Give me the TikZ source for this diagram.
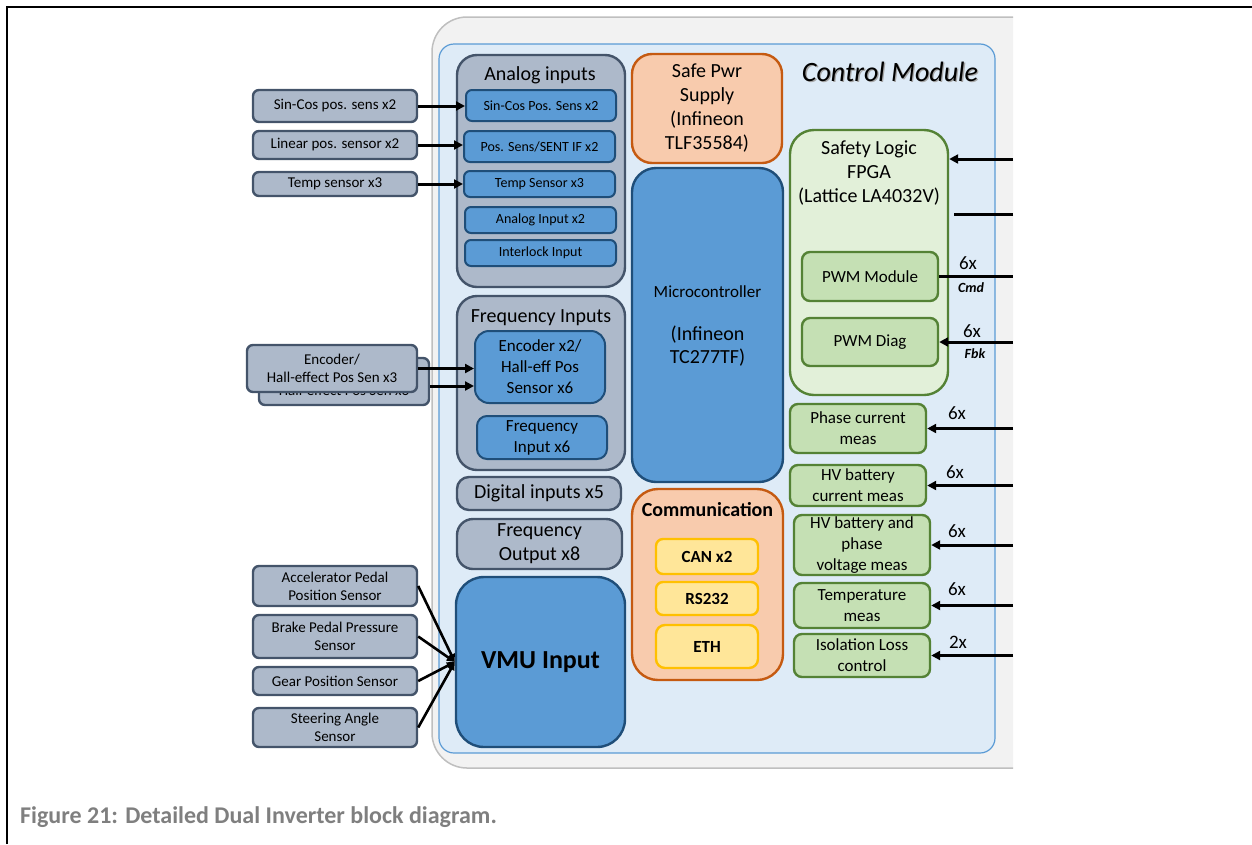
\documentclass[tikz,border=0pt]{standalone}
\usepackage{fontspec}
\setmainfont{Carlito}
\usetikzlibrary{arrows.meta}
\newcommand\fsz[2]{\fontsize{#1}{#2}\selectfont}
\definecolor{grayF}{HTML}{ADB9CA}
\definecolor{grayD}{HTML}{44546A}
\definecolor{blueF}{HTML}{5B9BD5}
\definecolor{blueD}{HTML}{1F4E79}
\definecolor{orF}{HTML}{F8CBAD}
\definecolor{orD}{HTML}{C55A11}
\definecolor{yeF}{HTML}{FFE699}
\definecolor{yeD}{HTML}{FFC000}
\definecolor{grL}{HTML}{E2F0D9}
\definecolor{grF}{HTML}{C5E0B4}
\definecolor{grD}{HTML}{548235}
\definecolor{panel}{HTML}{DEEBF7}
\definecolor{panelD}{HTML}{5B9BD5}
\definecolor{modF}{HTML}{F2F2F2}
\definecolor{modD}{HTML}{BFBFBF}
\definecolor{capG}{HTML}{7F7F7F}
\tikzset{
  base/.style={draw, line width=2.4pt, align=center, inner sep=0pt},
  lbox/.style={base, fill=grayF, draw=grayD, rounded corners=6pt, font=\fsz{15}{18}},
  grp/.style={base, fill=grayF, draw=grayD, rounded corners=20pt, font=\fsz{20}{24}},
  sub/.style={base, fill=blueF, draw=blueD, line width=2pt, rounded corners=6pt, font=\fsz{14}{17}},
  bigblue/.style={base, fill=blueF, draw=blueD, rounded corners=24pt},
  orbox/.style={base, fill=orF, draw=orD, rounded corners=20pt},
  yebox/.style={base, fill=yeF, draw=yeD, rounded corners=7pt, font=\fsz{17}{20}\bfseries},
  glbox/.style={base, fill=grL, draw=grD, rounded corners=24pt},
  gbox/.style={base, fill=grF, draw=grD, rounded corners=8pt, font=\fsz{17}{21}},
  lbl/.style={inner sep=0pt, font=\fsz{19}{22}},
  sublbl/.style={inner sep=0pt, font=\fsz{14}{16}\bfseries\itshape},
  arr/.style={line width=3pt, -{Triangle[length=9pt,width=9pt]}},
  wire/.style={line width=3pt},
  varr/.style={line width=2.6pt, -{Triangle[length=8pt,width=7pt]}}
}
\begin{document}
\begin{tikzpicture}[x=1pt,y=-1pt]
\useasboundingbox (0,0) rectangle (1252,844);
% page frame
\draw[line width=2.5pt] (7,844) -- (7,7) -- (1252,7);
% module outline (clipped at right)
\begin{scope}
\clip (0,0) rectangle (1013,844);
\draw[fill=modF, draw=modD, line width=1.5pt, rounded corners=35pt] (432,17) rectangle (1100,768);
\end{scope}
\draw[fill=panel, draw=panelD, line width=1.2pt, rounded corners=15pt] (439,44) rectangle (995,753);
\node[font=\fsz{28}{31}\itshape, text=black!35] (cmsh) at (891.3,73.3) {Control Module};
\node[font=\fsz{28}{31}\itshape] (cm) at (890,72) {Control Module};

% left input boxes
\node[lbox, minimum width=164pt, minimum height=32pt] (lsc) at (335,106) {Sin-Cos pos. sens x2};
\node[lbox, minimum width=164pt, minimum height=28pt] (llp) at (335,145) {Linear pos. sensor x2};
\node[lbox, minimum width=164pt, minimum height=24pt] (lts) at (335,184) {Temp sensor x3};
\node[lbox, minimum width=170pt, minimum height=47pt] (lenc2) at (344,381.5) {Encoder/\\Hall-effect Pos Sen x3};
\node[lbox, minimum width=170pt, minimum height=47pt] (lenc) at (332,368.5) {Encoder/\\Hall-effect Pos Sen x3};
\node[lbox, minimum width=164pt, minimum height=40pt] (lacc) at (335,586) {Accelerator Pedal\\Position Sensor};
\node[lbox, minimum width=164pt, minimum height=43pt] (lbrk) at (335,636.5) {Brake Pedal Pressure\\Sensor};
\node[lbox, minimum width=164pt, minimum height=28pt] (lgear) at (335,681) {Gear Position Sensor};
\node[lbox, minimum width=164pt, minimum height=39pt] (lsteer) at (335,727.5) {Steering Angle\\Sensor};

% analog inputs group
\node[grp, minimum width=168pt, minimum height=232pt] (ana) at (541,171) {};
\node[inner sep=0pt, font=\fsz{20}{24}] (anat) at (540,75) {Analog inputs};
\node[sub, minimum width=150pt, minimum height=31pt] (asc) at (541,105.5) {Sin-Cos Pos. Sens x2};
\node[sub, minimum width=151pt, minimum height=31pt] (aps) at (539.5,146.5) {Pos. Sens/SENT IF x2};
\node[sub, minimum width=151pt, minimum height=26pt] (ats) at (539.5,184) {Temp Sensor x3};
\node[sub, minimum width=151pt, minimum height=26pt] (aai) at (540.5,220) {Analog Input x2};
\node[sub, minimum width=151pt, minimum height=26pt] (ail) at (540.5,253) {Interlock Input};

% frequency inputs group
\node[grp, minimum width=168pt, minimum height=174pt] (frq) at (541,383) {};
\node[inner sep=0pt, font=\fsz{20}{24}] (frqt) at (541,318) {Frequency Inputs};
\node[sub, font=\fsz{17}{21}, rounded corners=14pt, minimum width=130pt, minimum height=72pt] (fenc) at (540,367) {Encoder x2/\\Hall-eff Pos\\Sensor x6};
\node[sub, font=\fsz{17}{21}, rounded corners=10pt, minimum width=130pt, minimum height=43pt] (fin) at (542,437.5) {Frequency\\Input x6};

\node[grp, rounded corners=12pt, minimum width=164pt, minimum height=33pt] (dig) at (539,493.5) {Digital inputs x5};
\node[grp, rounded corners=16pt, minimum width=165pt, minimum height=50pt] (fout) at (539.5,544) {Frequency\\Output x8};
\node[bigblue, rounded corners=28pt, minimum width=169pt, minimum height=170pt, font=\fsz{26}{30}\bfseries] (vmu) at (540.5,662) {VMU Input};

% centre column
\node[orbox, minimum width=150pt, minimum height=109pt, font=\fsz{20}{24}] (sps) at (707,108.5) {Safe Pwr\\Supply\\(Infineon\\TLF35584)};
\node[bigblue, minimum width=151pt, minimum height=314pt] (mcu) at (707.5,325) {};
\node[inner sep=0pt, font=\fsz{17}{20}] (mcut) at (707.5,292) {Microcontroller};
\node[inner sep=0pt, align=center, font=\fsz{20}{23}] (mcui) at (707.5,346) {(Infineon\\TC277TF)};
\node[orbox, rounded corners=26pt, minimum width=151pt, minimum height=191pt] (com) at (707.5,584.5) {};
\node[inner sep=0pt, font=\fsz{20}{24}\bfseries] (comt) at (707.5,510) {Communication};
\node[yebox, minimum width=102pt, minimum height=35pt] (can) at (707,556.5) {CAN x2};
\node[yebox, minimum width=102pt, minimum height=33pt] (rs) at (707,598.5) {RS232};
\node[yebox, rounded corners=9pt, minimum width=102pt, minimum height=43pt] (eth) at (707,646.5) {ETH};

% safety logic
\node[glbox, minimum width=158pt, minimum height=265pt] (fpga) at (869,262.5) {};
\node[inner sep=0pt, align=center, font=\fsz{20}{24}] (fpgat) at (869,173) {Safety Logic\\FPGA\\(Lattice LA4032V)};
\node[gbox, minimum width=136pt, minimum height=49pt] (pwmm) at (870,276.5) {PWM Module};
\node[gbox, minimum width=136pt, minimum height=48pt] (pwmd) at (870,342) {PWM Diag};

% measurement boxes
\node[gbox, minimum width=136pt, minimum height=49pt] (pcm) at (858,428.5) {Phase current\\meas};
\node[gbox, minimum width=136pt, minimum height=41pt] (hvc) at (858,485.5) {HV battery\\current meas};
\node[gbox, minimum width=136pt, minimum height=60pt] (hvp) at (862,545) {HV battery and\\phase\\voltage meas};
\node[gbox, minimum width=136pt, minimum height=45pt] (tmp) at (862,605.5) {Temperature\\meas};
\node[gbox, minimum width=136pt, minimum height=43pt] (iso) at (862,655.5) {Isolation Loss\\control};

% left connectors
\draw[arr] (lsc.east) -- (lsc.east -| asc.west);
\draw[arr] (llp.east) -- (llp.east -| aps.west);
\draw[arr] (lts.east) -- (lts.east -| ats.west);
\draw[arr] (lenc.east) -- (lenc.east -| fenc.west);
\draw[arr] ([yshift=-4.5pt]lenc2.east) -- ([yshift=-4.5pt]lenc2.east -| fenc.west);
\draw[varr] (lacc.east) -- (vmu.west);
\draw[varr] (lbrk.east) -- (vmu.west);
\draw[varr] (lgear.east) -- (vmu.west);
\draw[varr] (lsteer.east) -- (vmu.west);

% right connectors
\coordinate (edge) at (1013,0);
\coordinate (r1) at (1013,159);
\coordinate (r2) at (1013,214);
\draw[arr] (r1) -- (r1 -| fpga.east);
\draw[wire] (r2) -- ([xshift=5pt]r2 -| fpga.east);
\draw[wire] (pwmm.east) -- (pwmm.east -| edge);
\draw[arr] (edge |- pwmd.east) -- (pwmd.east);
\draw[arr] (edge |- pcm.east) -- (pcm.east);
\draw[arr] (edge |- hvc.east) -- (hvc.east);
\draw[arr] (edge |- hvp.east) -- (hvp.east);
\draw[arr] (edge |- tmp.east) -- (tmp.east);
\draw[arr] (edge |- iso.east) -- (iso.east);

\node[lbl] (n1) at (968,263) {6x};
\node[sublbl] (cmd) at (971,288) {Cmd};
\node[lbl] (n2) at (972,331) {6x};
\node[sublbl] (fbk) at (975,354) {Fbk};
\node[lbl] (n3) at (957,413) {6x};
\node[lbl] (n4) at (955,472) {6x};
\node[lbl] (n5) at (957,531) {6x};
\node[lbl] (n6) at (957,589) {6x};
\node[lbl] (n7) at (958,642) {2x};

% caption
\node[anchor=west, inner sep=0pt, text=capG, font=\fsz{24}{28}\bfseries] (cap) at (20,817) {Figure 21: Detailed Dual Inverter block diagram.};
\end{tikzpicture}
\end{document}
